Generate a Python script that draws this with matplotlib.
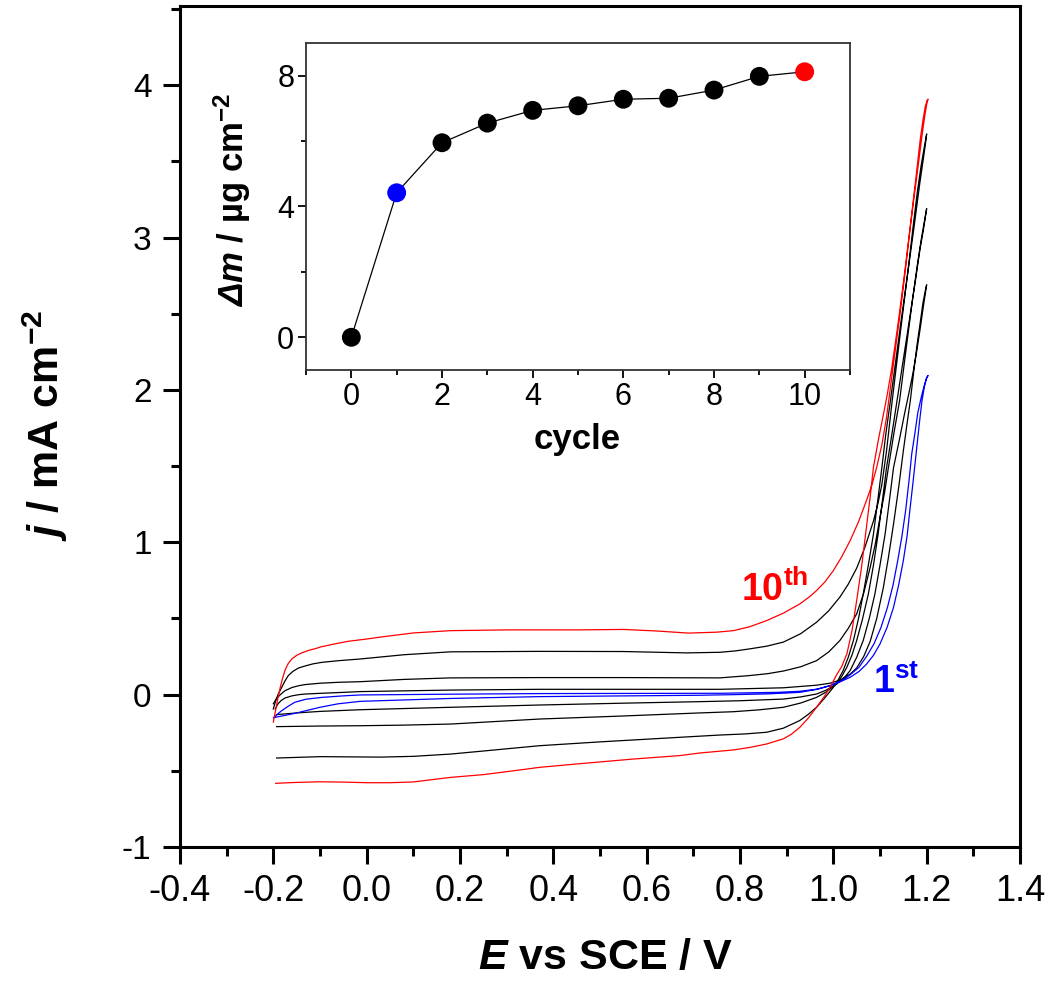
import matplotlib
matplotlib.use("Agg")
import matplotlib.pyplot as plt
from matplotlib.ticker import MultipleLocator, FormatStrFormatter

plt.rcParams["font.family"] = ["Liberation Sans", "DejaVu Sans"]
plt.rcParams["mathtext.fontset"] = "custom"
plt.rcParams["mathtext.rm"] = "Liberation Sans"
plt.rcParams["mathtext.it"] = "Liberation Sans:italic"
plt.rcParams["mathtext.bf"] = "Liberation Sans:bold"
plt.rcParams["mathtext.bfit"] = "Liberation Sans:bold:italic"
plt.rcParams["axes.unicode_minus"] = False

# ---------------------------------------------------------------------------
# CV loops (E / V vs SCE, j / mA cm-2), forward scan then reverse scan

# 1st cycle (blue)
cyc1_E = [-0.200, -0.191, -0.182, -0.168, -0.154, -0.130, -0.096, -0.050, -0.014,
          0.180, 0.371, 0.757, 0.880, 0.928, 0.965, 0.993, 1.015, 1.036, 1.055,
          1.071, 1.086, 1.100, 1.115, 1.129, 1.140, 1.150, 1.158, 1.164, 1.171,
          1.178, 1.185, 1.190, 1.195, 1.199, 1.202, 1.203,
          1.200, 1.195, 1.189, 1.181, 1.175, 1.168, 1.162, 1.155, 1.147, 1.138,
          1.128, 1.116, 1.102, 1.087, 1.071, 1.055, 1.036, 1.018, 0.993, 0.965,
          0.928, 0.860, 0.786, 0.714, 0.371, 0.180, -0.014, -0.061, -0.100,
          -0.154, -0.196]
cyc1_j = [-0.153, -0.128, -0.105, -0.076, -0.050, -0.030, -0.018, -0.008, -0.002,
          0.003, 0.007, 0.009, 0.015, 0.022, 0.036, 0.059, 0.085, 0.114, 0.152,
          0.200, 0.258, 0.333, 0.440, 0.573, 0.720, 0.880, 1.040, 1.210, 1.400,
          1.600, 1.800, 1.930, 2.020, 2.070, 2.090, 2.095,
          2.080, 2.030, 1.960, 1.850, 1.720, 1.580, 1.400, 1.210, 1.040, 0.880,
          0.720, 0.573, 0.440, 0.333, 0.250, 0.180, 0.130, 0.092, 0.059, 0.035,
          0.015, 0.005, 0.000, -0.004, -0.013, -0.025, -0.044, -0.060, -0.083,
          -0.123, -0.149]

# intermediate cycles (black)
cycA_E = [-0.196, -0.190, -0.183, -0.175, -0.160, -0.145, -0.132, -0.090, -0.050,
          -0.014, 0.180, 0.371, 0.757, 0.893, 0.964, 0.993, 1.014, 1.036, 1.050,
          1.065, 1.079, 1.093, 1.107, 1.118, 1.129, 1.140, 1.150, 1.158, 1.165,
          1.173, 1.180, 1.187, 1.192, 1.197, 1.200,
          1.198, 1.193, 1.186, 1.178, 1.170, 1.162, 1.153, 1.142, 1.129, 1.120,
          1.111, 1.100, 1.089, 1.077, 1.064, 1.050, 1.036, 1.022, 1.007, 0.985,
          0.964, 0.930, 0.893, 0.800, 0.714, 0.550, 0.371, 0.180, -0.014, -0.100,
          -0.150, -0.193]
cycA_j = [-0.094, -0.060, -0.038, -0.022, -0.008, 0.000, 0.004, 0.010, 0.015,
          0.020, 0.030, 0.035, 0.035, 0.045, 0.062, 0.075, 0.095, 0.135, 0.175,
          0.250, 0.350, 0.500, 0.700, 0.900, 1.120, 1.360, 1.600, 1.780, 1.930,
          2.140, 2.310, 2.460, 2.570, 2.650, 2.690,
          2.650, 2.550, 2.400, 2.240, 2.100, 1.980, 1.850, 1.680, 1.490, 1.270,
          1.055, 0.850, 0.660, 0.500, 0.355, 0.245, 0.158, 0.105, 0.070, 0.030,
          0.004, -0.015, -0.029, -0.040, -0.046, -0.056, -0.068, -0.083, -0.099,
          -0.110, -0.120, -0.131]

cycB_E = [-0.200, -0.193, -0.185, -0.175, -0.160, -0.145, -0.132, -0.100, -0.061,
          -0.014, 0.080, 0.180, 0.371, 0.550, 0.757, 0.820, 0.860, 0.893, 0.930,
          0.964, 0.990, 1.014, 1.032, 1.050, 1.065, 1.079, 1.090, 1.100, 1.110,
          1.118, 1.130, 1.142, 1.156, 1.170, 1.180, 1.188, 1.193, 1.197, 1.200,
          1.198, 1.193, 1.186, 1.176, 1.165, 1.150, 1.135, 1.125, 1.114, 1.105,
          1.096, 1.086, 1.075, 1.062, 1.050, 1.040, 1.029, 1.018, 1.007, 0.985,
          0.964, 0.930, 0.893, 0.840, 0.786, 0.714, 0.550, 0.371, 0.180, 0.080,
          -0.014, -0.100, -0.193]
cycB_j = [-0.060, -0.025, 0.000, 0.026, 0.047, 0.059, 0.066, 0.075, 0.081,
          0.085, 0.100, 0.110, 0.112, 0.112, 0.110, 0.125, 0.138, 0.155, 0.183,
          0.223, 0.280, 0.355, 0.435, 0.530, 0.665, 0.836, 0.990, 1.165, 1.330,
          1.490, 1.720, 1.930, 2.270, 2.600, 2.820, 2.980, 3.070, 3.140, 3.190,
          3.150, 3.050, 2.930, 2.720, 2.500, 2.200, 1.900, 1.700, 1.490, 1.270,
          1.055, 0.850, 0.660, 0.490, 0.355, 0.260, 0.180, 0.120, 0.070, 0.018,
          -0.018, -0.055, -0.083, -0.100, -0.112, -0.120, -0.140, -0.160, -0.193,
          -0.200, -0.204, -0.206, -0.210]

cycC_E = [-0.200, -0.195, -0.190, -0.182, -0.175, -0.168, -0.158, -0.146, -0.130,
          -0.115, -0.096, -0.060, -0.014, 0.080, 0.180, 0.370, 0.550, 0.686, 0.757,
          0.790, 0.820, 0.857, 0.893, 0.930, 0.964, 0.990, 1.014, 1.032, 1.050,
          1.068, 1.086, 1.096, 1.104, 1.114, 1.125, 1.143, 1.161, 1.172, 1.180,
          1.188, 1.193, 1.197, 1.200,
          1.198, 1.193, 1.185, 1.173, 1.160, 1.145, 1.132, 1.121, 1.112, 1.104,
          1.095, 1.086, 1.075, 1.064, 1.054, 1.043, 1.032, 1.021, 1.010, 1.000,
          0.982, 0.964, 0.946, 0.928, 0.893, 0.857, 0.810, 0.757, 0.671, 0.500,
          0.371, 0.250, 0.180, 0.100, 0.030, -0.100, -0.193]
cycC_j = [-0.094, -0.040, 0.000, 0.048, 0.090, 0.125, 0.153, 0.175, 0.190,
          0.202, 0.212, 0.223, 0.234, 0.262, 0.281, 0.284, 0.283, 0.274, 0.278,
          0.287, 0.300, 0.318, 0.345, 0.400, 0.475, 0.550, 0.640, 0.725, 0.830,
          0.970, 1.140, 1.260, 1.380, 1.600, 1.900, 2.360, 2.810, 3.100, 3.300,
          3.470, 3.560, 3.630, 3.680,
          3.630, 3.520, 3.350, 3.070, 2.780, 2.450, 2.150, 1.900, 1.700, 1.490,
          1.270, 1.055, 0.850, 0.660, 0.500, 0.355, 0.245, 0.158, 0.095, 0.048,
          -0.020, -0.083, -0.130, -0.170, -0.220, -0.247, -0.258, -0.265, -0.280,
          -0.310, -0.335, -0.370, -0.390, -0.405, -0.410, -0.407, -0.416]

# 10th cycle (red)
cyc10_E = [-0.200, -0.195, -0.190, -0.185, -0.180, -0.175, -0.168, -0.160, -0.150,
           -0.140, -0.125, -0.110, -0.096, -0.070, -0.040, 0.000, 0.030, 0.100,
           0.180, 0.300, 0.450, 0.550, 0.620, 0.690, 0.750, 0.786, 0.820, 0.857,
           0.893, 0.928, 0.950, 0.964, 0.982, 1.000, 1.018, 1.036, 1.054, 1.071,
           1.083, 1.093, 1.104, 1.114, 1.128, 1.143, 1.156, 1.168, 1.178, 1.186,
           1.192, 1.197, 1.201, 1.203,
           1.201, 1.196, 1.190, 1.183, 1.172, 1.162, 1.150, 1.138, 1.125, 1.115,
           1.108, 1.097, 1.086, 1.079, 1.071, 1.061, 1.050, 1.040, 1.029, 1.018,
           1.007, 0.993, 0.980, 0.964, 0.946, 0.928, 0.910, 0.893, 0.857, 0.820,
           0.786, 0.714, 0.671, 0.570, 0.450, 0.371, 0.314, 0.250, 0.180, 0.100,
           0.050, 0.000, -0.050, -0.100, -0.150, -0.195]
cyc10_j = [-0.180, -0.100, -0.020, 0.050, 0.110, 0.160, 0.205, 0.235, 0.258,
           0.273, 0.290, 0.302, 0.315, 0.332, 0.350, 0.365, 0.378, 0.405,
           0.420, 0.425, 0.425, 0.428, 0.418, 0.404, 0.410, 0.420, 0.445, 0.486,
           0.535, 0.595, 0.645, 0.683, 0.740, 0.814, 0.905, 1.011, 1.135, 1.274,
           1.380, 1.493, 1.640, 1.820, 2.150, 2.500, 2.830, 3.157, 3.420, 3.639,
           3.770, 3.860, 3.900, 3.908,
           3.890, 3.800, 3.670, 3.500, 3.240, 3.000, 2.700, 2.420, 2.140, 1.960,
           1.850, 1.680, 1.493, 1.300, 1.100, 0.850, 0.617, 0.420, 0.267, 0.185,
           0.130, 0.048, -0.015, -0.083, -0.155, -0.215, -0.260, -0.290, -0.324,
           -0.347, -0.363, -0.383, -0.400, -0.423, -0.455, -0.477, -0.500, -0.525,
           -0.543, -0.573, -0.578, -0.578, -0.574, -0.572, -0.576, -0.582]

# inset: mass change per cycle
cycle = [0, 1, 2, 3, 4, 5, 6, 7, 8, 9, 10]
dm = [0.0, 4.42, 5.95, 6.55, 6.94, 7.08, 7.28, 7.31, 7.56, 7.98, 8.12]


#------------------------------------------------------------------------------
fig = plt.figure(figsize=(10.55, 9.82), dpi=100)
ax = fig.add_axes([180 / 1055, 1 - 847 / 982, 840 / 1055, 841 / 982])

ax.plot(cycA_E, cycA_j, color="black", lw=0.9)
ax.plot(cycB_E, cycB_j, color="black", lw=0.9)
ax.plot(cycC_E, cycC_j, color="black", lw=0.9)
ax.plot(cyc1_E, cyc1_j, color="#0000ff", lw=0.9)
ax.plot(cyc10_E, cyc10_j, color="#ff0000", lw=0.9)

ax.set_xlim(-0.4, 1.4)
ax.set_ylim(-1, 4.52)
ax.xaxis.set_major_locator(MultipleLocator(0.2))
ax.xaxis.set_minor_locator(MultipleLocator(0.1))
ax.xaxis.set_major_formatter(FormatStrFormatter("%.1f"))
ax.yaxis.set_major_locator(MultipleLocator(1))
ax.yaxis.set_minor_locator(MultipleLocator(0.5))
ax.tick_params(which="both", direction="out", top=False, right=False, width=2.2)
ax.tick_params(which="major", length=12.5)
ax.tick_params(which="minor", length=6.5)
ax.tick_params(axis="x", which="major", labelsize=26, pad=7)
ax.tick_params(axis="y", which="major", labelsize=24, pad=8)
for s in ax.spines.values():
    s.set_linewidth(2.2)

ax.text(0.803, 0.617, r"$\mathbf{10^{th}}$", color="#ff0000", fontsize=27,
        va="baseline", ha="left")
ax.text(1.085, 0.013, r"$\mathbf{1^{st}}$", color="#0000ff", fontsize=27,
        va="baseline", ha="left")

fig.text(45 / 1055, 1 - 425 / 982, r"$\mathbfit{j}$ / mA cm$^{\mathbf{-2}}$",
         rotation=90, ha="center", va="center", fontsize=31, fontweight="bold")
fig.text(606 / 1055, 1 - 958 / 982, r"$\mathbfit{E}$ vs SCE / V",
         ha="center", va="center", fontsize=31, fontweight="bold")

# inset
ins = fig.add_axes([306 / 1055, 1 - 370 / 982, 544 / 1055, 327 / 982])
mcol = ["#0000ff" if c == 1 else "#ff0000" if c == 10 else "black" for c in cycle]
ins.plot(cycle, dm, color="black", lw=0.9, zorder=2)
ins.scatter(cycle, dm, s=185, c=mcol, zorder=3, linewidths=0)
ins.set_xlim(-1, 11)
ins.set_ylim(-1, 9)
ins.xaxis.set_major_locator(MultipleLocator(2))
ins.xaxis.set_minor_locator(MultipleLocator(1))
ins.yaxis.set_major_locator(MultipleLocator(4))
ins.yaxis.set_minor_locator(MultipleLocator(2))
ins.tick_params(which="both", direction="out", top=False, right=False, width=1.3)
ins.tick_params(which="major", length=5.5, labelsize=22, pad=3)
ins.tick_params(which="minor", length=3.5)
for s in ins.spines.values():
    s.set_linewidth(1.3)
    s.set_color("#333333")

fig.text(232 / 1055, 1 - 200 / 982, r"$\mathbfit{\Delta m}$ / µg cm$^{\mathbf{-2}}$",
         rotation=90, ha="center", va="center", fontsize=25, fontweight="bold")
fig.text(577 / 1055, 1 - 440 / 982, "cycle", ha="center", va="center",
         fontsize=25, fontweight="bold")

plt.savefig("out.png", dpi=100)
